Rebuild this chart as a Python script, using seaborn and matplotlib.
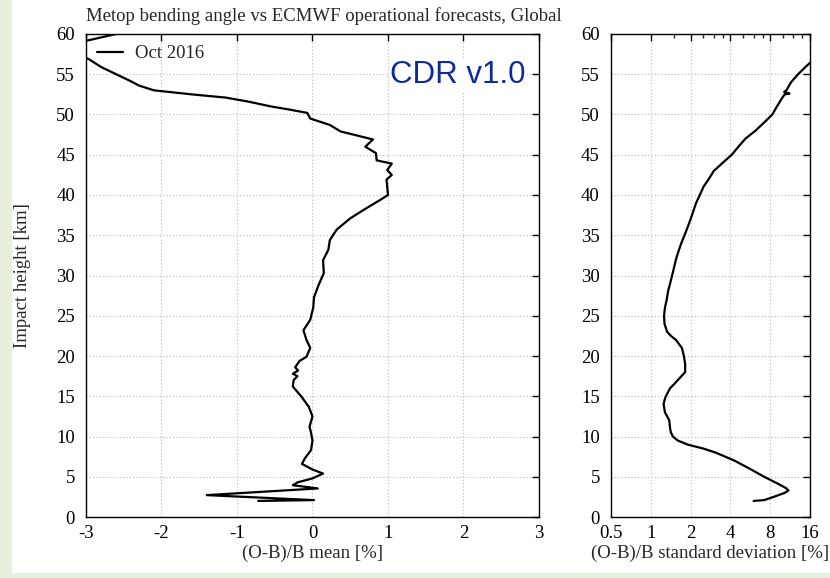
import matplotlib
matplotlib.use("Agg")
import matplotlib.pyplot as plt
import matplotlib.ticker as mticker
from matplotlib.patches import Rectangle
import seaborn as sns
import pandas as pd

# (O-B)/B mean [%] vs impact height [km]
mean_height = [2.0, 2.1, 2.72, 3.55, 3.95, 4.3, 4.8, 5.4, 5.9, 6.6, 7.3, 8.3, 9.5,
               10.5, 11.2, 12.5, 13.7, 15.0, 16.2, 17.0, 17.5, 17.8, 18.2, 18.6,
               19.4, 19.9, 21.0, 22.0, 23.2, 24.5, 26.0, 27.3, 28.8, 30.3, 31.9,
               33.2, 34.4, 35.7, 37.1, 38.4, 39.4, 40.0, 41.0, 41.9, 42.5, 43.1,
               43.9, 44.3, 45.2, 46.0, 46.9, 47.9, 48.7, 49.5, 50.2, 50.6, 51.0,
               51.6, 52.1, 52.5, 53.0, 53.6, 54.1, 55.0, 55.9, 56.8, 57.3, 58.2,
               58.8, 59.15, 60.0, 60.5]
mean_value = [-0.72, 0.02, -1.4, 0.07, -0.26, -0.2, 0.0, 0.14, 0.0, -0.14, -0.1,
              -0.02, 0.0, -0.02, -0.04, 0.0, -0.05, -0.15, -0.26, -0.25, -0.2,
              -0.26, -0.19, -0.23, -0.17, -0.08, -0.03, -0.08, -0.12, -0.03, 0.01,
              0.02, 0.08, 0.15, 0.14, 0.21, 0.23, 0.32, 0.5, 0.72, 0.9, 1.0, 0.99,
              0.98, 1.05, 0.99, 1.05, 0.85, 0.84, 0.7, 0.8, 0.37, 0.23, -0.03,
              -0.07, -0.3, -0.55, -0.85, -1.15, -1.6, -2.1, -2.3, -2.4, -2.6,
              -2.8, -2.95, -3.05, -3.6, -3.3, -3.0, -2.6, -2.4]

# (O-B)/B standard deviation [%]
std_height = [2.0, 2.1, 2.5, 3.0, 3.3, 3.6, 4.0, 5.0, 6.0, 7.0, 8.0, 8.5, 9.0,
              9.5, 10.0, 10.5, 11.0, 12.0, 12.5, 13.0, 14.0, 14.5, 15.0, 16.0,
              16.5, 17.0, 18.0, 19.0, 20.0, 21.0, 22.0, 22.5, 23.0, 24.0, 25.0,
              26.0, 27.0, 28.0, 29.0, 30.0, 31.0, 32.0, 33.0, 34.0, 35.0, 36.0,
              37.0, 38.0, 39.0, 40.0, 41.0, 42.0, 43.0, 44.0, 45.0, 46.0, 47.0,
              48.0, 49.0, 50.0, 51.0, 52.0, 52.5, 52.6, 52.8, 53.0, 54.0, 55.0,
              56.0, 56.6]
std_value = [6.0, 7.2, 8.5, 10.3, 11.0, 10.5, 9.5, 7.2, 5.6, 4.3, 3.1, 2.5, 1.9,
             1.6, 1.47, 1.42, 1.4, 1.38, 1.33, 1.28, 1.25, 1.27, 1.3, 1.4, 1.5,
             1.6, 1.82, 1.82, 1.78, 1.72, 1.55, 1.42, 1.33, 1.27, 1.26, 1.28,
             1.32, 1.35, 1.4, 1.45, 1.5, 1.55, 1.62, 1.7, 1.8, 1.9, 2.0, 2.1,
             2.2, 2.35, 2.5, 2.75, 3.0, 3.5, 4.1, 4.6, 5.2, 6.2, 7.2, 8.3, 9.0,
             9.8, 10.3, 11.2, 10.2, 10.6, 11.5, 13.0, 15.0, 16.5]

height_ticks = list(range(0, 61, 5))
mean_ticks = [-3, -2, -1, 0, 1, 2, 3]
std_ticks = [0.5, 1, 2, 4, 8, 16]
std_minor = [1.5, 2.5, 3, 3.5, 5, 6, 7, 10, 12, 14]

df_mean = pd.DataFrame({"height": mean_height, "value": mean_value})
df_std = pd.DataFrame({"height": std_height, "value": std_value})

sns.set_style("white")
plt.rcParams["font.family"] = ["Liberation Serif", "DejaVu Serif"]

fig = plt.figure(figsize=(8.3, 5.78), dpi=100)
# pale green slide frame
fig.patches.append(Rectangle((0, 0), 0.013, 1, transform=fig.transFigure,
                             color="#e6f1da", zorder=0))
fig.patches.append(Rectangle((0, 0), 1, 0.008, transform=fig.transFigure,
                             color="#e6f1da", zorder=0))

ax1 = fig.add_axes([0.1036, 0.1055, 0.5458, 0.8357])
ax2 = fig.add_axes([0.7361, 0.1055, 0.2398, 0.8357])

grid_kw = dict(color="#b8b8b8", linestyle=(0, (1, 2)), linewidth=0.8)
fs = 13.5

sns.lineplot(data=df_mean, x="value", y="height", ax=ax1, sort=False,
             estimator=None, orient="y", color="black", linewidth=1.6,
             label="Oct 2016")
ax1.set_xlim(-3, 3)
ax1.set_ylim(0, 60)
ax1.set_xticks(mean_ticks)
ax1.set_xticklabels([str(t) for t in mean_ticks])
ax1.set_yticks(height_ticks)
ax1.grid(True, **grid_kw)
ax1.set_xlabel("(O-B)/B mean [%]", fontsize=fs, labelpad=2)
ax1.set_ylabel("Impact height [km]", fontsize=fs, labelpad=18)
ax1.set_title("Metop bending angle vs ECMWF operational forecasts, Global",
              fontsize=13.5, loc="left", x=0.0, pad=9)
leg = ax1.legend(loc="upper left", frameon=False, fontsize=fs,
                 handlelength=1.4, borderaxespad=0.2, handletextpad=0.6)
ax1.text(2.82, 54.9, "CDR v1.0", fontsize=22.5, color="#10299c",
         family=["Liberation Sans", "DejaVu Sans"], ha="right", va="center",
         bbox=dict(facecolor="white", edgecolor="none", pad=1), zorder=5)

sns.lineplot(data=df_std, x="value", y="height", ax=ax2, sort=False,
             estimator=None, orient="y", color="black", linewidth=1.6,
             legend=False)
ax2.set_xscale("log", base=2)
ax2.set_xlim(0.5, 16)
ax2.set_ylim(0, 60)
ax2.xaxis.set_major_locator(mticker.FixedLocator(std_ticks))
ax2.xaxis.set_major_formatter(mticker.FixedFormatter([str(t) for t in std_ticks]))
ax2.xaxis.set_minor_locator(mticker.FixedLocator(std_minor))
ax2.xaxis.set_minor_formatter(mticker.NullFormatter())
ax2.set_yticks(height_ticks)
ax2.grid(True, which="major", **grid_kw)
ax2.set_xlabel("(O-B)/B standard deviation [%]", fontsize=fs, labelpad=2)
ax2.set_ylabel("")

for ax in (ax1, ax2):
    for s in ax.spines.values():
        s.set_color("black")
        s.set_linewidth(1.0)
    ax.tick_params(which="major", direction="in", length=5, width=1,
                   top=True, right=True, labelsize=fs, pad=6, colors="black")
    ax.tick_params(which="minor", direction="in", length=3, width=1,
                   top=True, right=True)
    ax.tick_params(axis="y", pad=8)

fig.savefig("out.png", dpi=100)
